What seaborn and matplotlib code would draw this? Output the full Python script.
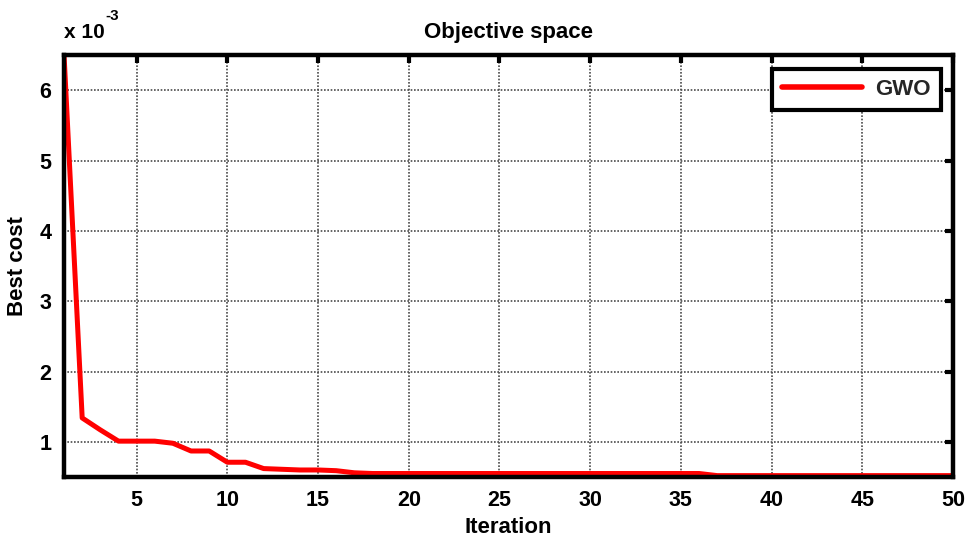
import numpy as np
import pandas as pd
import matplotlib
matplotlib.use("Agg")
import matplotlib.pyplot as plt
from matplotlib.ticker import FuncFormatter
import seaborn as sns

# Best cost per iteration of the GWO run
iterations = list(range(1, 51))
best_cost = ([6.5e-3, 1.34e-3, 1.17e-3, 1.01e-3, 1.01e-3, 1.01e-3, 0.98e-3,
              0.87e-3, 0.87e-3, 0.71e-3, 0.71e-3, 0.62e-3, 0.61e-3, 0.60e-3,
              0.60e-3, 0.59e-3, 0.56e-3]
             + [0.55e-3] * 19
             + [0.52e-3] * 14)
series_name = "GWO"
x_ticks = [5, 10, 15, 20, 25, 30, 35, 40, 45, 50]
y_ticks = [1e-3, 2e-3, 3e-3, 4e-3, 5e-3, 6e-3]

df = pd.DataFrame({"Iteration": iterations, "Best cost": best_cost,
                   "algo": series_name})

sns.set_theme(style="white")
plt.rcParams["font.family"] = ["Liberation Sans Narrow", "Liberation Sans", "DejaVu Sans"]
plt.rcParams["font.weight"] = "bold"

fig = plt.figure(figsize=(9.66, 5.42), dpi=100)
ax = fig.add_axes([0.0663, 0.1199, 0.9203, 0.7786])

sns.lineplot(data=df, x="Iteration", y="Best cost", hue="algo",
             palette=["#ff0000"], linewidth=3.6, ax=ax, zorder=3)

ax.set_xlim(1, 50)
ax.set_ylim(0.5e-3, 6.5e-3)
ax.set_xticks(x_ticks)
ax.set_yticks(y_ticks)
ax.yaxis.set_major_formatter(FuncFormatter(lambda v, p: f"{v / 1e-3:g}"))

ax.grid(True, color="#4a4a4a", linestyle=(0, (1, 1)), linewidth=1.2)
for s in ax.spines.values():
    s.set_visible(True)
    s.set_color("black")
    s.set_linewidth(3.2)
    s.set_zorder(4)

ax.tick_params(axis="both", which="major", direction="in", length=6, width=3,
               color="black", top=True, right=True, labelsize=15.5,
               labelcolor="black", pad=9)
for lab in ax.get_xticklabels() + ax.get_yticklabels():
    lab.set_fontweight("bold")

ax.set_xlabel("Iteration", fontsize=16, fontweight="bold", color="black", labelpad=5)
ax.set_ylabel("Best cost", fontsize=16, fontweight="bold", color="black", labelpad=8)
ax.set_title("Objective space", fontsize=16, fontweight="bold", color="black", pad=12)

# exponent label above the y axis
ax.text(0.0, 1.032, "x 10", transform=ax.transAxes,
        fontsize=15, fontweight="bold", ha="left", va="bottom", color="black")
ax.text(0.046, 1.075, "-3", transform=ax.transAxes,
        fontsize=11, fontweight="bold", ha="left", va="bottom", color="black")

leg = ax.legend(loc="upper right", fontsize=16, handlelength=3.6,
                frameon=True, fancybox=False, borderpad=0.45, framealpha=1,
                handletextpad=0.6, borderaxespad=0.5,
                bbox_to_anchor=(0.999, 0.993))
leg.get_frame().set_edgecolor("black")
leg.get_frame().set_linewidth(3)
for t in leg.get_texts():
    t.set_fontweight("bold")
for h in leg.get_lines():
    h.set_linewidth(4)

fig.savefig("out.png", dpi=100, facecolor="white")
